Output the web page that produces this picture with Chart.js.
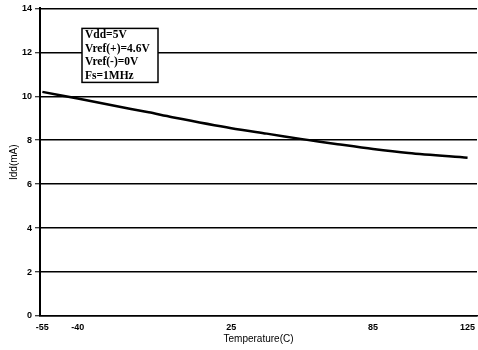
<!DOCTYPE html>
<html>
<head>
<meta charset="utf-8">
<script src="https://cdn.jsdelivr.net/npm/chart.js@4.4.1/dist/chart.umd.min.js"></script>
<style>
  html, body { margin: 0; padding: 0; background: #fff; }
  #wrap { width: 478px; height: 350px; }
</style>
</head>
<body>
<div id="wrap"><canvas id="c" width="478" height="350"></canvas></div>
<script>
// Supply current versus temperature
const temperatures = [-55, -40, -25, -10, 0, 25, 40, 55, 70, 85, 100, 125];
const iddValues    = [10.2, 9.9, 9.58, 9.27, 9.05, 8.55, 8.3, 8.05, 7.82, 7.6, 7.42, 7.2];
const xTickValues  = [-55, -40, 25, 85, 125];
const conditions   = ['Vdd=5V', 'Vref(+)=4.6V', 'Vref(-)=0V', 'Fs=1MHz'];

// Boxed test-condition note drawn over the grid
const conditionsBox = {
  id: 'conditionsBox',
  afterDatasetsDraw(chart) {
    const ctx = chart.ctx;
    const a = chart.chartArea;
    const x = a.left + 42, y = a.top + 20, w = 76, h = 54;
    ctx.save();
    ctx.fillStyle = '#fff';
    ctx.fillRect(x, y, w, h);
    ctx.lineWidth = 1.5;
    ctx.strokeStyle = '#000';
    ctx.strokeRect(x, y, w, h);
    ctx.fillStyle = '#000';
    ctx.font = 'bold 11.5px "Liberation Serif", "Times New Roman", serif';
    ctx.textBaseline = 'middle';
    conditions.forEach((t, i) => ctx.fillText(t, x + 3, y + 7 + i * 13.4));
    ctx.restore();
  }
};

new Chart(document.getElementById('c'), {
  type: 'line',
  data: {
    datasets: [{
      data: temperatures.map((t, i) => ({ x: t, y: iddValues[i] })),
      borderColor: '#000',
      borderWidth: 2.5,
      pointRadius: 0,
      tension: 0.3,
      fill: false
    }]
  },
  options: {
    responsive: false,
    animation: false,
    layout: { padding: { top: 7, right: 1, left: 0, bottom: 0 } },
    plugins: { legend: { display: false }, tooltip: { enabled: false } },
    scales: {
      x: {
        type: 'linear',
        min: -56,
        max: 129,
        afterBuildTicks(scale) { scale.ticks = xTickValues.map(v => ({ value: v })); },
        afterFit(scale) {
          scale.height = 34;
          scale.paddingLeft = 0;
          scale.paddingRight = 0;
        },
        grid: { display: false, drawTicks: false },
        border: { display: true, color: '#000', width: 1.5 },
        ticks: {
          color: '#000',
          padding: 6,
          maxRotation: 0,
          autoSkip: false,
          font: { family: '"Liberation Sans", Arial, sans-serif', size: 9, weight: 'bold' }
        },
        title: {
          display: true,
          text: 'Temperature(C)',
          color: '#000',
          padding: { top: 0, bottom: 5 },
          font: { family: '"Liberation Sans", Arial, sans-serif', size: 10 }
        }
      },
      y: {
        min: 0,
        max: 14,
        afterFit(scale) { scale.width = 40; },
        grid: { color: '#000', lineWidth: 1.5, tickLength: 5, tickColor: '#000', tickWidth: 1 },
        border: { display: true, color: '#000', width: 2 },
        ticks: {
          stepSize: 2,
          color: '#000',
          padding: 3,
          font: { family: '"Liberation Sans", Arial, sans-serif', size: 9, weight: 'bold' }
        },
        title: {
          display: true,
          text: 'Idd(mA)',
          color: '#000',
          padding: { top: 8, bottom: 0 },
          font: { family: '"Liberation Sans", Arial, sans-serif', size: 10 }
        }
      }
    }
  },
  plugins: [conditionsBox]
});
</script>
</body>
</html>
